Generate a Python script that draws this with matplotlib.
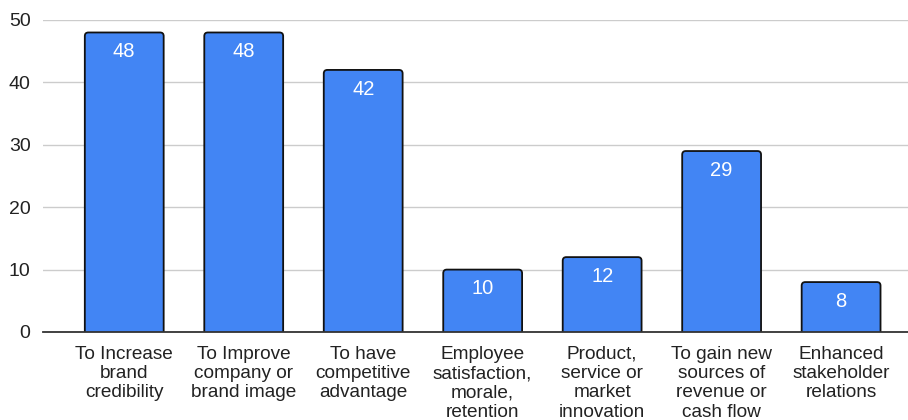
import matplotlib.pyplot as plt
from matplotlib.patches import FancyBboxPatch

categories = [
    "To Increase\nbrand\ncredibility",
    "To Improve\ncompany or\nbrand image",
    "To have\ncompetitive\nadvantage",
    "Employee\nsatisfaction,\nmorale,\nretention",
    "Product,\nservice or\nmarket\ninnovation",
    "To gain new\nsources of\nrevenue or\ncash flow",
    "Enhanced\nstakeholder\nrelations",
]
values = [48, 48, 42, 10, 12, 29, 8]
yticks = [0, 10, 20, 30, 40, 50]

plt.rcParams['font.family'] = ['Liberation Sans', 'DejaVu Sans']

fig = plt.figure(figsize=(9.08, 4.2), dpi=100)
ax = fig.add_axes([43 / 908, 1 - 332 / 420, 865 / 908, 312 / 420])

x = list(range(len(values)))
bars = ax.bar(x, values, width=0.66, color='#4285f4')

# swap plain rectangles for ones with slightly rounded corners
for b in bars:
    b.set_visible(False)
    p = FancyBboxPatch((b.get_x(), -2), b.get_width(), b.get_height() + 2,
                       boxstyle="round,pad=0,rounding_size=0.03",
                       mutation_aspect=19.15,
                       facecolor='#4285f4', edgecolor='#111111', linewidth=1.3,
                       zorder=2)
    ax.add_patch(p)

for xi, v in zip(x, values):
    ax.annotate(str(v), (xi, v), xytext=(0, -7), textcoords='offset points',
                ha='center', va='top', color='white', fontsize=14.5, zorder=3)

ax.set_xlim(-0.68, 6.56)
ax.set_ylim(0, 50)
ax.set_yticks(yticks)
ax.set_xticks(x)
ax.set_xticklabels(categories, fontsize=13.7, linespacing=1.17, color='#222222')
ax.tick_params(axis='y', labelsize=14, labelcolor='#222222', length=0, pad=9)
ax.tick_params(axis='x', length=0, pad=10)
ax.grid(axis='y', color='#cccccc', linewidth=1.0, zorder=0)
ax.set_axisbelow(True)
for s in ['top', 'right', 'left']:
    ax.spines[s].set_visible(False)
ax.spines['bottom'].set_color('#333333')
ax.spines['bottom'].set_linewidth(1.3)
ax.spines['bottom'].set_zorder(4)

fig.savefig('out.png', dpi=100)
